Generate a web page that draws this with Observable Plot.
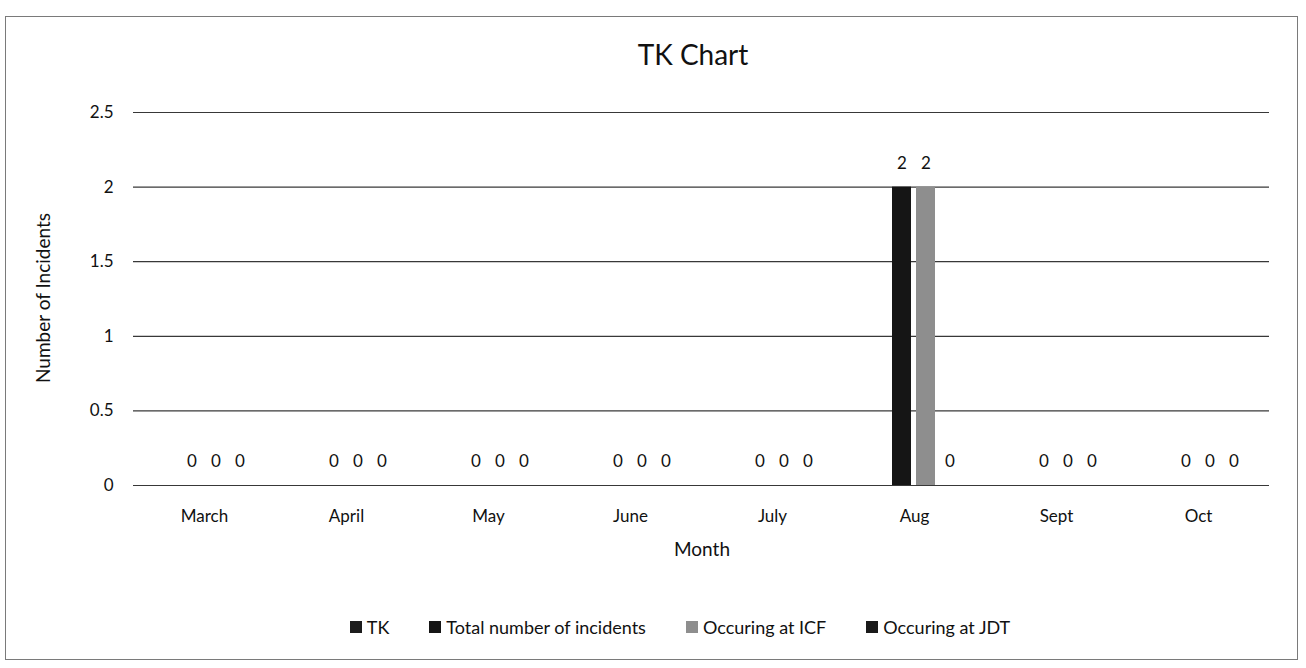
<!DOCTYPE html>
<html>
<head>
<meta charset="utf-8">
<script src="https://cdn.jsdelivr.net/npm/d3@7"></script>
<script src="https://cdn.jsdelivr.net/npm/@observablehq/plot@0.6"></script>
<style>
  html, body { margin: 0; padding: 0; background: #fff; }
  body { width: 1306px; height: 668px; position: relative; overflow: hidden; font-family: Lato, "Open Sans", sans-serif; color: #111; }
  #frame { position: absolute; left: 5px; top: 16px; width: 1293px; height: 644px; border: 1px solid #7a7a7a; box-sizing: border-box; }
  #title { position: absolute; left: 0; width: 1386px; top: 37px; text-align: center; font-size: 28px; line-height: 34px; }
  #chart { position: absolute; left: 0; top: 80px; }
  #ylabel { position: absolute; left: 42px; top: 298px; transform: translate(-50%, -50%) rotate(-90deg); font-size: 19px; white-space: nowrap; }
  #xlabel { position: absolute; left: 0; width: 1404px; top: 537px; text-align: center; font-size: 19px; line-height: 24px; }
  #legend { position: absolute; left: 0; width: 1360px; top: 616px; display: flex; justify-content: center; gap: 40px; font-size: 18px; line-height: 22px; }
  #legend .item { display: flex; align-items: center; gap: 5px; }
  #legend .sw { width: 12px; height: 12px; display: inline-block; }
</style>
</head>
<body>
<div id="frame"></div>
<div id="title">TK Chart</div>
<div id="chart"></div>
<div id="ylabel">Number of Incidents</div>
<div id="xlabel">Month</div>
<div id="legend"></div>
<script>
// ---- data ----
const months = ["March", "April", "May", "June", "July", "Aug", "Sept", "Oct"];
const seriesNames = ["TK", "Total number of incidents", "Occuring at ICF", "Occuring at JDT"];
const tkValues = [null, null, null, null, null, null, null, null];
const totalIncidents = [0, 0, 0, 0, 0, 2, 0, 0];
const occurringICF = [0, 0, 0, 0, 0, 2, 0, 0];
const occurringJDT = [0, 0, 0, 0, 0, 0, 0, 0];
const seriesColors = ["#1c1c1c", "#151515", "#8e8e8e", "#1a1a1a"];
const yTicks = [0, 0.5, 1, 1.5, 2, 2.5];

const seriesValues = [tkValues, totalIncidents, occurringICF, occurringJDT];
const rows = [];
months.forEach((m, i) => {
  seriesNames.forEach((s, j) => {
    const v = seriesValues[j][i];
    if (v !== null && v !== undefined) rows.push({month: m, series: s, value: v});
  });
});

const chart = Plot.plot({
  width: 1306,
  height: 480,
  marginLeft: 130,
  marginRight: 34,
  marginTop: 32,
  marginBottom: 75,
  style: {fontFamily: "Lato, 'Open Sans', sans-serif", fontSize: "16px", color: "#111", background: "transparent"},
  fx: {domain: months, padding: 0, label: null, axis: null},
  x: {domain: seriesNames, paddingInner: 0.2, paddingOuter: 0.95, axis: null},
  y: {domain: [0, 2.5], label: null, axis: null},
  color: {domain: seriesNames, range: seriesColors},
  marks: [
    Plot.gridY(yTicks, {stroke: "#222", strokeOpacity: 0.9, strokeWidth: 1.2}),
    Plot.barY(rows, {fx: "month", x: "series", y: "value", fill: "series"}),
    Plot.text(rows, {fx: "month", x: "series", y: "value", text: d => String(d.value), dy: -24, fontSize: 17, fill: "#111"}),
    Plot.axisFx({anchor: "bottom", tickSize: 0, tickPadding: 24, fontSize: 17, label: null}),
    Plot.axisY(yTicks, {anchor: "left", tickSize: 0, tickPadding: 20, fontSize: 17, tickFormat: d => String(d), label: null})
  ]
});
document.getElementById("chart").appendChild(chart);

const legend = document.getElementById("legend");
seriesNames.forEach((s, j) => {
  const it = document.createElement("div");
  it.className = "item";
  const sw = document.createElement("span");
  sw.className = "sw";
  sw.style.background = seriesColors[j];
  const tx = document.createElement("span");
  tx.textContent = s;
  it.appendChild(sw);
  it.appendChild(tx);
  legend.appendChild(it);
});
</script>
</body>
</html>
